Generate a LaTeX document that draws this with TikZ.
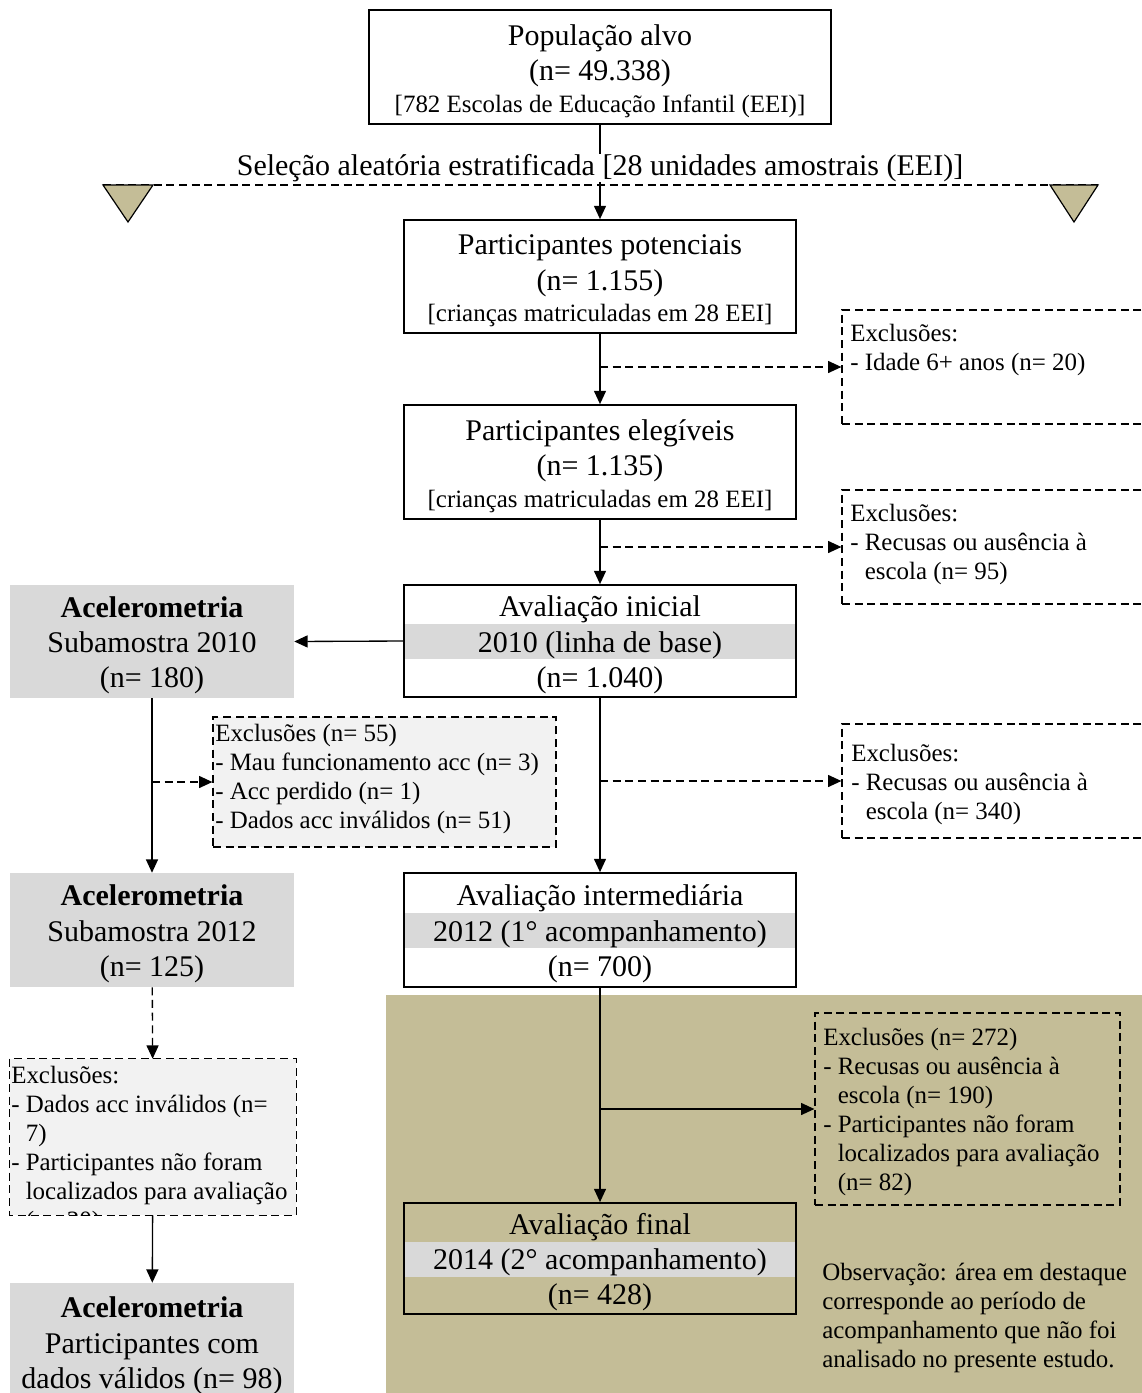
\documentclass[tikz,border=0pt]{standalone}
\usepackage{fontspec}
\setmainfont{Liberation Serif}
\usetikzlibrary{arrows.meta}
\definecolor{khaki}{HTML}{C4BD97}
\definecolor{boxgray}{HTML}{D9D9D9}
\definecolor{exgray}{HTML}{F2F2F2}
\newcommand{\bigf}{\fontsize{22.5}{26.5}\selectfont}
\newcommand{\smf}{\fontsize{18.7}{21.75}\selectfont}
\newcommand{\fl}{\rule{0pt}{21.5pt}}
\tikzset{
  mainbox/.style={draw, line width=1.3pt, fill=white, inner sep=0pt, align=center, font=\bigf, minimum width=294pt},
  accbox/.style={fill=boxgray, inner sep=0pt, align=center, font=\bigf, minimum width=213pt},
  exdash/.style={dash pattern=on 6pt off 3.5pt},
  exbox/.style={draw, exdash, line width=0.9pt, inner sep=0pt},
  extext/.style={anchor=north west, inner sep=0pt, align=left, font=\smf},
  conn/.style={line width=1pt, -{Triangle[length=10pt,width=9pt]}},
  dconn/.style={conn, exdash},
  band/.style={path picture={\fill[boxgray] ([xshift=-146.4pt,yshift=12.75pt]path picture bounding box.center) rectangle ([xshift=146.4pt,yshift=-13.5pt]path picture bounding box.center);}}
}
\begin{document}
\begin{tikzpicture}[x=0.75pt,y=-0.75pt]
\useasboundingbox (0,0) rectangle (1142,1393);
% highlighted follow-up area
\fill[khaki] (386,995) rectangle (1160,1410);

% main column
\node[mainbox, minimum width=346.5pt, minimum height=85.5pt] (b1) at (600,67)
  {\fl População alvo\\(n= 49.338)\\[-3pt]{\smf [782 Escolas de Educação Infantil (EEI)]}};
\node[mainbox, minimum height=84.75pt] (b2) at (600,276.5)
  {\fl Participantes potenciais\\(n= 1.155)\\[-3pt]{\smf [crianças matriculadas em 28 EEI]}};
\node[mainbox, minimum height=85.5pt] (b3) at (600,462)
  {\fl Participantes elegíveis\\(n= 1.135)\\[-3pt]{\smf [crianças matriculadas em 28 EEI]}};
\node[mainbox, band, minimum height=84pt] (b4) at (600,641)
  {\fl Avaliação inicial\\2010 (linha de base)\\(n= 1.040)};
\node[mainbox, band, minimum height=85.5pt] (b5) at (600,930)
  {\fl Avaliação intermediária\\2012 (1° acompanhamento)\\(n= 700)};
\node[mainbox, band, fill=none, minimum height=83.25pt] (b6) at (600,1258.5)
  {\fl Avaliação final\\2014 (2° acompanhamento)\\(n= 428)};

% accelerometry column
\node[accbox, minimum height=84.75pt] (a1) at (152,641.5)
  {\fl\textbf{Acelerometria}\\Subamostra 2010\\(n= 180)};
\node[accbox, minimum height=85.5pt] (a2) at (152,930)
  {\fl\textbf{Acelerometria}\\Subamostra 2012\\(n= 125)};
\node[accbox, minimum height=88.5pt] (a3) at (152,1342)
  {\fl\textbf{Acelerometria}\\Participantes com\\dados válidos (n= 98)};

% exclusion boxes
\node[exbox, minimum width=231pt, minimum height=85.5pt] (e1) at (996,367) {};
\node[extext] (e1t) at (850,324) {Exclusões:\\- Idade 6+ anos (n= 20)};
\node[exbox, minimum width=231pt, minimum height=85.5pt] (e2) at (996,547) {};
\node[extext] (e2t) at (850,504) {Exclusões:\\- Recusas ou ausência à\\\hphantom{- }escola (n= 95)};
\node[exbox, minimum width=231pt, minimum height=85.5pt] (e3) at (996,781) {};
\node[extext] (e3t) at (851,744) {Exclusões:\\- Recusas ou ausência à\\\hphantom{- }escola (n= 340)};
\node[exbox, fill=exgray, minimum width=257.25pt, minimum height=97.5pt] (el1) at (384.5,782) {};
\node[extext] (el1t) at (215,724) {Exclusões (n= 55)\\- Mau funcionamento acc (n= 3)\\- Acc perdido (n= 1)\\- Dados acc inválidos (n= 51)};
\node[fill=exgray, inner sep=0pt, minimum width=214.5pt, minimum height=117pt] (el2) at (153,1137) {};
\begin{scope}
  \clip (el2.north west) rectangle (el2.south east);
  \node[extext] (el2t) at (11,1066) {Exclusões:\\- Dados acc inválidos (n=\\\hphantom{- }7)\\- Participantes não foram\\\hphantom{- }localizados para avaliação\\\hphantom{- }(n= 20)};
\end{scope}
\draw[exdash, line width=0.9pt] (el2.north west) rectangle (el2.south east);
\node[exbox, minimum width=228.75pt, minimum height=144pt] (e4) at (967.5,1109) {};
\node[extext] (e4t) at (823,1028) {Exclusões (n= 272)\\- Recusas ou ausência à\\\hphantom{- }escola (n= 190)\\- Participantes não foram\\\hphantom{- }localizados para avaliação\\\hphantom{- }(n= 82)};

\node[extext] (obs) at (822,1263) {Observação: área em destaque\\corresponde ao período de\\acompanhamento que não foi\\analisado no presente estudo.};

% connectors
\draw[conn] (b1) -- (b2);
\node[fill=white, inner sep=0.5pt, font=\bigf] (sel) at (600,168) {Seleção aleatória estratificada [28 unidades amostrais (EEI)]};
\coordinate (selL) at (103,185);
\coordinate (selR) at (1098,185);
\draw[exdash, line width=0.9pt] (selL) -- (selR);
\filldraw[fill=khaki, draw=black, line width=0.9pt, line join=miter] (selL) -- (153,185) -- (128,222) -- cycle;
\filldraw[fill=khaki, draw=black, line width=0.9pt, line join=miter] (1050,185) -- (selR) -- (1074,222) -- cycle;

\draw[conn] (b2) -- (b3);
\draw[conn] (b3) -- (b4);
\draw[conn] (b4) -- (b5);
\draw[conn] (b5) -- (b6);
\draw[conn] (b4.west) -- (a1.east);
\draw[conn] (a1) -- (a2);
\draw[dconn] (a2) -- (el2);
\draw[conn] (el2) -- (a3);

\draw[dconn] (b2.south |- e1.west) -- (e1.west);
\draw[dconn] (b3.south |- e2.west) -- (e2.west);
\draw[dconn] (b4.south |- e3.west) -- (e3.west);
\draw[dconn] (a1.south |- el1.west) -- (el1.west);
\draw[conn] (b5.south |- e4.west) -- (e4.west);
\end{tikzpicture}
\end{document}
